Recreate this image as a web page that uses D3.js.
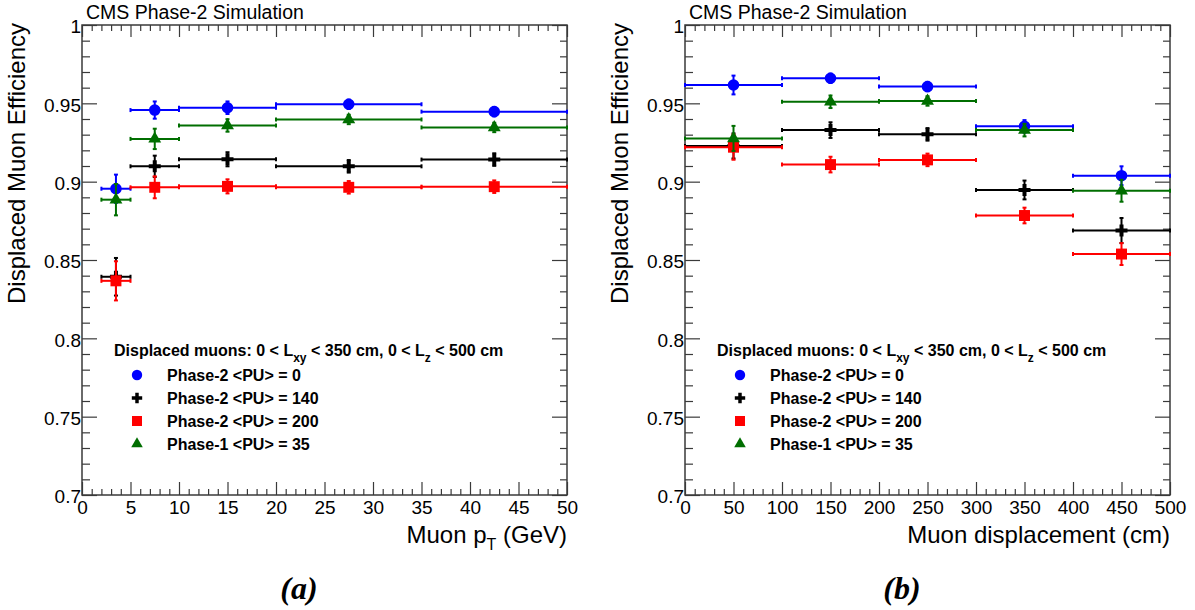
<!DOCTYPE html>
<html>
<head>
<meta charset="utf-8">
<script src="https://cdn.jsdelivr.net/npm/d3@7"></script>
<style>
  body { margin: 0; background: #fff; }
  svg { display: block; }
</style>
</head>
<body>
<svg id="chart" width="1195" height="610"></svg>
<script>
// ---- data: muon pT binning (GeV) ----
const ptEdges   = [2, 5, 10, 20, 35, 50];
const ptCenters = [3.5, 7.5, 15, 27.5, 42.5];
const ptPU0     = [0.8955, 0.9457, 0.9472, 0.9494, 0.9447];
const ptPU0Err  = [0.009, 0.0055, 0.004, 0.003, 0.003];
const ptPU140   = [0.8393, 0.9098, 0.9143, 0.9098, 0.9141];
const ptPU140Err= [0.012, 0.0068, 0.0045, 0.004, 0.004];
const ptPU200   = [0.8367, 0.8964, 0.8970, 0.8964, 0.8968];
const ptPU200Err= [0.0125, 0.007, 0.0045, 0.004, 0.004];
const ptPh1     = [0.8885, 0.9273, 0.9359, 0.9397, 0.9346];
const ptPh1Err  = [0.010, 0.0065, 0.004, 0.003, 0.003];

// ---- data: muon displacement binning (cm) ----
const dispEdges   = [0, 100, 200, 300, 400, 500];
const dispCenters = [50, 150, 250, 350, 450];
const dispPU0     = [0.9617, 0.9660, 0.9607, 0.9353, 0.9038];
const dispPU0Err  = [0.006, 0.003, 0.003, 0.004, 0.006];
const dispPU140   = [0.9228, 0.9329, 0.9302, 0.8947, 0.8688];
const dispPU140Err= [0.008, 0.005, 0.004, 0.006, 0.008];
const dispPU200   = [0.9220, 0.9109, 0.9139, 0.8784, 0.8538];
const dispPU200Err= [0.008, 0.005, 0.004, 0.005, 0.007];
const dispPh1     = [0.9276, 0.9510, 0.9515, 0.9329, 0.8942];
const dispPh1Err  = [0.008, 0.004, 0.003, 0.004, 0.007];

// ---- labels and ticks ----
const seriesLabels = ["Phase-2 <PU> = 0", "Phase-2 <PU> = 140", "Phase-2 <PU> = 200", "Phase-1 <PU> = 35"];
const effTicks  = [0.7, 0.75, 0.8, 0.85, 0.9, 0.95, 1];
const ptTicks   = [0, 5, 10, 15, 20, 25, 30, 35, 40, 45, 50];
const dispTicks = [0, 50, 100, 150, 200, 250, 300, 350, 400, 450, 500];
const yTitle    = "Displaced Muon Efficiency";
const topTitle  = "CMS Phase-2 Simulation";

// series styling (drawing order: blue, black, red, green)
const styles = [
  { color: "#0000ff", symbol: d3.symbolCircle,   size: 105, legSize: 85 },
  { color: "#000000", symbol: d3.symbolCross,    size: 80,  legSize: 60 },
  { color: "#ff0000", symbol: d3.symbolSquare,   size: 120, legSize: 100 },
  { color: "#006e00", symbol: d3.symbolTriangle, size: 72,  legSize: 58 }
];

const svg = d3.select("#chart");
const FONT = "'Liberation Sans', Arial, Helvetica, sans-serif";
const W = 485, H = 470;

function drawPanel(p) {
  const g = svg.append("g").attr("transform", `translate(${p.left},25)`);
  const x = d3.scaleLinear().domain(p.xDomain).range([0, W]);
  const y = d3.scaleLinear().domain([0.7, 1]).range([H, 0]);
  const axisColor = "#3a3a3a";

  // minor ticks
  const yMinor = d3.range(70, 101).filter(i => i % 5 !== 0).map(i => i / 100);
  const xMinor = d3.range(p.xDomain[0], p.xDomain[1] + 1e-9, p.minorStep)
    .filter(v => !p.xTicks.some(t => Math.abs(t - v) < 1e-9));

  function styleAxis(sel) {
    sel.select(".domain").remove();
    sel.selectAll("line").attr("stroke", axisColor).attr("stroke-width", 1.2);
    sel.selectAll("text").attr("fill", "#000").attr("font-family", FONT);
  }

  // bottom
  g.append("g").attr("transform", `translate(0,${H})`)
    .call(d3.axisBottom(x).tickValues(p.xTicks).tickSize(-13).tickPadding(6).tickFormat(d3.format("d")))
    .call(styleAxis)
    .call(s => s.selectAll("text").attr("font-size", 19));
  g.append("g").attr("transform", `translate(0,${H})`)
    .call(d3.axisBottom(x).tickValues(xMinor).tickSize(-6).tickFormat(""))
    .call(styleAxis);
  // top
  g.append("g")
    .call(d3.axisTop(x).tickValues(p.xTicks).tickSize(-12).tickFormat(""))
    .call(styleAxis);
  g.append("g")
    .call(d3.axisTop(x).tickValues(xMinor).tickSize(-6).tickFormat(""))
    .call(styleAxis);
  // left
  g.append("g")
    .call(d3.axisLeft(y).tickValues(effTicks).tickSize(-15).tickPadding(1).tickFormat(d => String(+d.toFixed(2))))
    .call(styleAxis)
    .call(s => s.selectAll("text").attr("font-size", 19).attr("dy", "0.42em"));
  g.append("g")
    .call(d3.axisLeft(y).tickValues(yMinor).tickSize(-8).tickFormat(""))
    .call(styleAxis);
  // right
  g.append("g").attr("transform", `translate(${W},0)`)
    .call(d3.axisRight(y).tickValues(effTicks).tickSize(-15).tickFormat(""))
    .call(styleAxis);
  g.append("g").attr("transform", `translate(${W},0)`)
    .call(d3.axisRight(y).tickValues(yMinor).tickSize(-7).tickFormat(""))
    .call(styleAxis);

  // frame
  g.append("rect").attr("width", W).attr("height", H)
    .attr("fill", "none").attr("stroke", axisColor).attr("stroke-width", 1.5);

  // data: bin-width horizontal bars, vertical stat errors, markers
  p.series.forEach((s, k) => {
    const st = styles[k];
    const sg = g.append("g").attr("stroke", st.color).attr("stroke-width", 2).attr("fill", "none");
    s.values.forEach((v, i) => {
      const x0 = x(p.edges[i]), x1 = x(p.edges[i + 1]);
      const xc = x(p.centers[i]), yc = y(v);
      const yt = y(v + s.errors[i]), yb = y(v - s.errors[i]);
      sg.append("line").attr("x1", x0).attr("x2", x1).attr("y1", yc).attr("y2", yc);
      sg.append("line").attr("x1", x0).attr("x2", x0).attr("y1", yc - 2).attr("y2", yc + 2);
      sg.append("line").attr("x1", x1).attr("x2", x1).attr("y1", yc - 2).attr("y2", yc + 2);
      sg.append("line").attr("x1", xc).attr("x2", xc).attr("y1", yt).attr("y2", yb);
      sg.append("line").attr("x1", xc - 2).attr("x2", xc + 2).attr("y1", yt).attr("y2", yt);
      sg.append("line").attr("x1", xc - 2).attr("x2", xc + 2).attr("y1", yb).attr("y2", yb);
      g.append("path")
        .attr("d", d3.symbol(st.symbol, st.size)())
        .attr("transform", `translate(${xc},${yc})`)
        .attr("fill", st.color);
    });
  });

  // legend
  const lg = g.append("g").attr("font-family", FONT).attr("font-weight", "bold").attr("font-size", 16);
  const hdr = lg.append("text").attr("x", 32).attr("y", 331);
  hdr.append("tspan").text("Displaced muons: 0 < L");
  hdr.append("tspan").attr("font-size", 12).attr("dy", 6).text("xy");
  hdr.append("tspan").attr("dy", -6).text(" < 350 cm, 0 < L");
  hdr.append("tspan").attr("font-size", 12).attr("dy", 6).text("z");
  hdr.append("tspan").attr("dy", -6).text(" < 500 cm");
  seriesLabels.forEach((lab, k) => {
    const cy = 350 + k * 23;
    lg.append("path")
      .attr("d", d3.symbol(styles[k].symbol, styles[k].legSize)())
      .attr("transform", `translate(55,${cy})`)
      .attr("fill", styles[k].color);
    lg.append("text").attr("x", 85).attr("y", cy + 6).text(lab);
  });

  // top title
  svg.append("text").attr("x", p.left + 4).attr("y", 19)
    .attr("font-family", FONT).attr("font-size", 19.5).text(topTitle);

  // y title
  svg.append("text")
    .attr("transform", `translate(${p.left - 57},23) rotate(-90)`)
    .attr("text-anchor", "end")
    .attr("font-family", FONT).attr("font-size", 24).text(yTitle);

  // x title
  const xt = svg.append("text").attr("x", p.left + W).attr("y", 543)
    .attr("text-anchor", "end").attr("font-family", FONT).attr("font-size", 24);
  p.xTitle.forEach(part => {
    const t = xt.append("tspan").text(part.t);
    if (part.sub) t.attr("font-size", 16).attr("dy", 7);
    if (part.after) t.attr("dy", -7);
  });

  // panel caption
  svg.append("text").attr("x", p.left + 217).attr("y", 599)
    .attr("text-anchor", "middle")
    .attr("font-family", "'Liberation Serif', 'Times New Roman', serif")
    .attr("font-style", "italic").attr("font-weight", "bold").attr("font-size", 32).text(p.caption);
}

drawPanel({
  left: 82,
  xDomain: [0, 50], xTicks: ptTicks, minorStep: 1,
  edges: ptEdges, centers: ptCenters,
  series: [
    { values: ptPU0,   errors: ptPU0Err },
    { values: ptPU140, errors: ptPU140Err },
    { values: ptPU200, errors: ptPU200Err },
    { values: ptPh1,   errors: ptPh1Err }
  ],
  xTitle: [{ t: "Muon p" }, { t: "T", sub: true }, { t: " (GeV)", after: true }],
  caption: "(a)"
});

drawPanel({
  left: 685,
  xDomain: [0, 500], xTicks: dispTicks, minorStep: 10,
  edges: dispEdges, centers: dispCenters,
  series: [
    { values: dispPU0,   errors: dispPU0Err },
    { values: dispPU140, errors: dispPU140Err },
    { values: dispPU200, errors: dispPU200Err },
    { values: dispPh1,   errors: dispPh1Err }
  ],
  xTitle: [{ t: "Muon displacement (cm)" }],
  caption: "(b)"
});
</script>
</body>
</html>
